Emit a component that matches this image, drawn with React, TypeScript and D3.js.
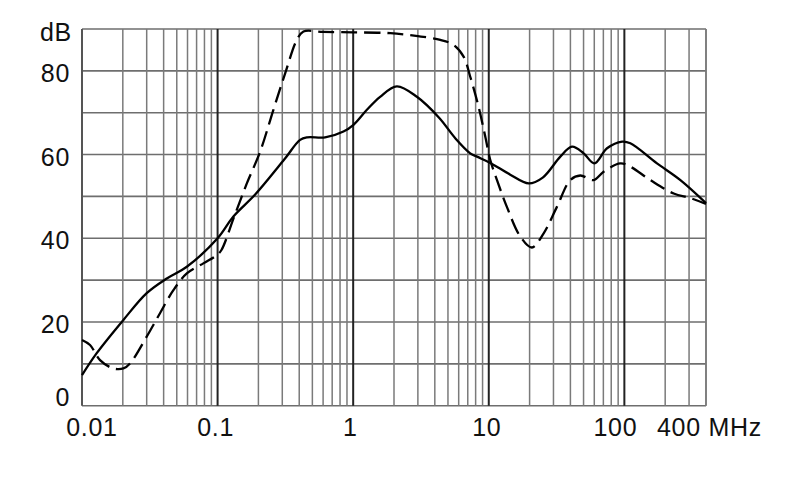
import React from "react";
import * as d3 from "d3";

const solidF = [0.01, 0.0128, 0.0202, 0.030, 0.0422, 0.0593, 0.1, 0.1308, 0.19, 0.31, 0.406, 0.458, 0.621, 0.848, 1.005, 1.262, 1.58, 2.1, 2.95, 4.3, 5.7, 7.3, 8.18, 10.26, 14.4, 19.7, 25, 33.7, 41.1, 50.1, 60.1, 74.5, 96.2, 110.7, 174, 259, 400];
const solidDB = [7.3, 12.5, 20.5, 26.9, 30.4, 33.2, 40.0, 45.2, 50.5, 58.8, 63.5, 64.1, 64.1, 65.5, 67.1, 70.7, 73.8, 76.3, 73.8, 68.8, 63.8, 60.3, 59.5, 58.0, 55.2, 53.1, 54.5, 59.5, 61.9, 60.3, 57.9, 61.5, 63.1, 62.7, 57.9, 53.9, 48.4];

const dashF = [0.01, 0.01146, 0.01358, 0.01702, 0.0202, 0.0226, 0.030, 0.0376, 0.0472, 0.0593, 0.0785, 0.099, 0.1068, 0.1326, 0.1643, 0.206, 0.258, 0.315, 0.384, 0.43, 0.6, 1.0, 1.88, 3.0, 4.39, 5.5, 6.52, 7.3, 8.41, 9.42, 10.26, 11.5, 13.6, 17.1, 20.8, 25.4, 31.8, 39.9, 47.3, 59.4, 70.3, 93.4, 110.7, 155.6, 231, 307, 400];
const dashDB = [15.7, 14.5, 10.9, 8.9, 8.9, 10.1, 16.5, 22.1, 27.6, 31.6, 34.0, 36.0, 37.2, 45.2, 53.1, 60.7, 70.7, 79.4, 87.4, 89.4, 89.3, 89.2, 89.0, 88.3, 87.4, 86.2, 83.4, 78.6, 71.4, 64.3, 58.7, 53.9, 47.5, 40.4, 37.8, 41.2, 47.5, 53.9, 55.0, 53.9, 55.9, 57.9, 57.1, 53.9, 50.7, 49.6, 48.2];

const yTicks = [0, 20, 40, 60, 80];
const yGrid = [0, 10, 20, 30, 40, 50, 60, 70, 80, 90];
const xLabels = ["0.01", "0.1", "1", "10", "100", "400 MHz"];
const xLabelValues = [0.01, 0.1, 1, 10, 100, 400];
const xLabelDx = [10, -2, -3, -2, -9, 4];

export default function App() {
  const W = 790, H = 499;
  const left = 82, right = 706, top = 29, bottom = 405.7;
  const x = d3.scaleLog().domain([0.01, 400]).range([left, right]);
  const y = d3.scaleLinear().domain([0, 90]).range([bottom, top]);

  const minor: number[] = [];
  const decades: number[] = [];
  for (let e = -2; e <= 2; e++) {
    const base = Math.pow(10, e);
    for (let m = 1; m <= 9; m++) {
      const v = base * m;
      if (v > 400 * 1.0001) continue;
      if (m === 1) decades.push(v);
      else minor.push(v);
    }
  }

  const line = d3
    .line<[number, number]>()
    .x((d) => x(d[0]))
    .y((d) => y(d[1]))
    .curve(d3.curveCatmullRom.alpha(0.5));

  const solid = solidF.map((f, i) => [f, solidDB[i]] as [number, number]);
  const dash = dashF.map((f, i) => [f, dashDB[i]] as [number, number]);

  const font = "Liberation Sans, Arial, Helvetica, sans-serif";
  const fs = 25;
  const ls = 0.7;

  return (
    <svg
      width={W}
      height={H}
      style={{ position: "absolute", left: 0, top: 0, background: "#fff" }}
    >
      <rect x={0} y={0} width={W} height={H} fill="#fff" />
      {yGrid.map((v) => (
        <line key={"h" + v} x1={left} x2={right} y1={y(v)} y2={y(v)} stroke="#6e6e6e" strokeWidth={1.6} />
      ))}
      {minor.map((v) => (
        <line key={"m" + v} x1={x(v)} x2={x(v)} y1={top} y2={bottom} stroke="#7a7a7a" strokeWidth={1.5} />
      ))}
      <line x1={right} x2={right} y1={top} y2={bottom} stroke="#7a7a7a" strokeWidth={1.6} />
      {decades.map((v) => (
        <line key={"d" + v} x1={x(v)} x2={x(v)} y1={top} y2={bottom} stroke={v === 0.01 ? "#555" : "#222"} strokeWidth={2} />
      ))}
      <path d={line(solid) || ""} fill="none" stroke="#000" strokeWidth={2.3} />
      <path d={line(dash) || ""} fill="none" stroke="#000" strokeWidth={2.3} strokeDasharray="16,7" />
      {yTicks.map((v) => (
        <text
          key={"yl" + v}
          x={70}
          y={v === 0 ? y(v) : y(v) + 11}
          textAnchor="end"
          fontFamily={font}
          fontSize={fs}
          letterSpacing={ls}
          fill="#111"
        >
          {v}
        </text>
      ))}
      <text x={72} y={41} textAnchor="end" fontFamily={font} fontSize={fs} letterSpacing={ls} fill="#111">
        dB
      </text>
      {xLabels.map((t, i) => (
        <text
          key={"xl" + t}
          x={i === xLabels.length - 1 ? 657 : x(xLabelValues[i]) + xLabelDx[i]}
          y={436}
          textAnchor={i === xLabels.length - 1 ? "start" : "middle"}
          fontFamily={font}
          fontSize={fs}
          letterSpacing={ls}
          fill="#111"
        >
          {t}
        </text>
      ))}
    </svg>
  );
}
